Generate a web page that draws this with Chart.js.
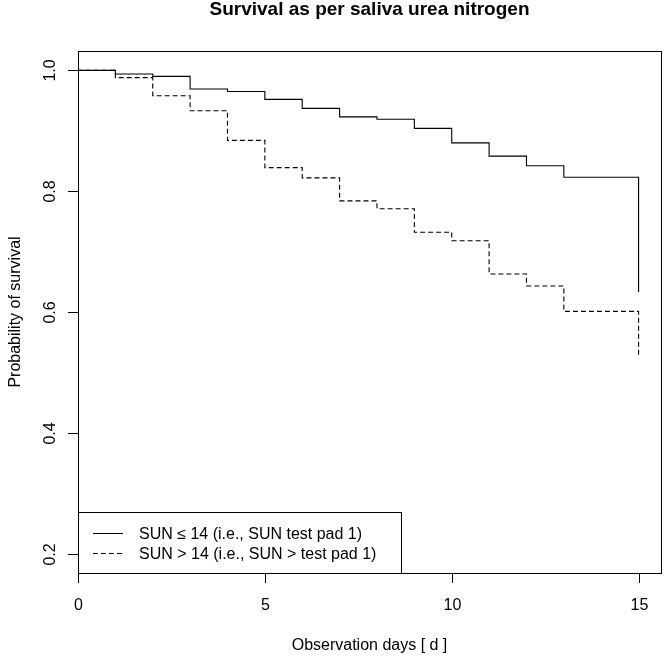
<!DOCTYPE html>
<html>
<head>
<meta charset="utf-8">
<title>Survival as per saliva urea nitrogen</title>
<script src="https://cdn.jsdelivr.net/npm/chart.js@4/dist/chart.umd.min.js"></script>
<style>
  html, body { margin: 0; padding: 0; background: #fff; }
  #wrap { width: 664px; height: 656px; }
</style>
</head>
<body>
<div id="wrap"><canvas id="km" width="664" height="656"></canvas></div>
<script>
// Kaplan-Meier estimates
const days = [0, 1, 2, 3, 4, 5, 6, 7, 8, 9, 10, 11, 12, 13, 15]
const survLow = [1.0, 0.994, 0.990, 0.969, 0.965, 0.952, 0.937, 0.923, 0.919, 0.904, 0.880, 0.858, 0.842, 0.823, 0.633]
const survHigh = [1.0, 0.988, 0.958, 0.933, 0.884, 0.839, 0.822, 0.784, 0.771, 0.732, 0.718, 0.663, 0.643, 0.601, 0.526]

const xTicks = [0, 5, 10, 15]
const yTicks = [0.2, 0.4, 0.6, 0.8, 1.0]
const seriesLabels = [
  'SUN \u2264 14 (i.e., SUN test pad 1)',
  'SUN > 14 (i.e., SUN > test pad 1)'
]
const TITLE = 'Survival as per saliva urea nitrogen'
const X_TITLE = 'Observation days [ d ]'
const Y_TITLE = 'Probability of survival'

const FONT = '"Liberation Sans", Arial, Helvetica, sans-serif'
const INK = '#000'

const toPoints = (ys) => days.map((d, i) => ({ x: d, y: ys[i] }))

// R-style frame, axes, titles and legend
const baseGraphics = {
  id: 'baseGraphics',
  afterDatasetsDraw (chart) {
    const { ctx, chartArea: a, scales: { x, y } } = chart
    ctx.save()
    ctx.strokeStyle = INK
    ctx.fillStyle = INK
    ctx.lineWidth = 1

    // box
    ctx.strokeRect(Math.round(a.left) + 0.5, Math.round(a.top) + 0.5,
      Math.round(a.right - a.left), Math.round(a.bottom - a.top))

    // x axis
    ctx.font = '16px ' + FONT
    ctx.textAlign = 'center'
    ctx.textBaseline = 'alphabetic'
    xTicks.forEach(v => {
      const px = Math.round(x.getPixelForValue(v)) + 0.5
      ctx.beginPath()
      ctx.moveTo(px, a.bottom)
      ctx.lineTo(px, a.bottom + 10)
      ctx.stroke()
      ctx.fillText(String(v), px, a.bottom + 37)
    })

    // y axis
    yTicks.forEach(v => {
      const py = Math.round(y.getPixelForValue(v)) + 0.5
      ctx.beginPath()
      ctx.moveTo(a.left - 10, py)
      ctx.lineTo(a.left, py)
      ctx.stroke()
      ctx.save()
      ctx.translate(55, py)
      ctx.rotate(-Math.PI / 2)
      ctx.fillText(v.toFixed(1), 0, 0)
      ctx.restore()
    })

    const cx = (a.left + a.right) / 2
    const cy = (a.top + a.bottom) / 2

    // axis titles
    ctx.fillText(X_TITLE, cx, 650)
    ctx.save()
    ctx.translate(20, cy)
    ctx.rotate(-Math.PI / 2)
    ctx.fillText(Y_TITLE, 0, 0)
    ctx.restore()

    // main title
    ctx.font = 'bold 19px ' + FONT
    ctx.fillText(TITLE, cx, 15)

    // legend, bottom left
    const lx = Math.round(a.left) + 0.5
    const ly = 512.5
    ctx.fillStyle = '#fff'
    ctx.fillRect(lx, ly, 323, a.bottom - ly)
    ctx.strokeRect(lx, ly, 323, Math.round(a.bottom) - ly + 0.5)
    ctx.fillStyle = INK
    ctx.font = '16px ' + FONT
    ctx.textAlign = 'left'
    chart.data.datasets.forEach((ds, i) => {
      const rowY = 533 + i * 20
      ctx.setLineDash(ds.borderDash || [])
      ctx.beginPath()
      ctx.moveTo(93, rowY + 0.5)
      ctx.lineTo(123, rowY + 0.5)
      ctx.stroke()
      ctx.setLineDash([])
      ctx.fillText(ds.label, 139, rowY + 6)
    })
    ctx.restore()
  }
}

new Chart(document.getElementById('km'), {
  type: 'line',
  data: {
    datasets: [
      {
        label: seriesLabels[0],
        data: toPoints(survLow),
        borderColor: INK,
        borderWidth: 1.1,
        stepped: true,
        pointRadius: 0,
        fill: false
      },
      {
        label: seriesLabels[1],
        data: toPoints(survHigh),
        borderColor: INK,
        borderWidth: 1.1,
        borderDash: [5, 3],
        stepped: true,
        pointRadius: 0,
        fill: false
      }
    ]
  },
  options: {
    responsive: false,
    animation: false,
    devicePixelRatio: 1,
    layout: { padding: { left: 78, right: 3, top: 51, bottom: 83 } },
    plugins: {
      legend: { display: false },
      tooltip: { enabled: false },
      title: { display: false }
    },
    scales: {
      x: { type: 'linear', min: 0, max: 15.6, display: false },
      y: { type: 'linear', min: 0.168, max: 1.032, display: false }
    }
  },
  plugins: [baseGraphics]
})
</script>
</body>
</html>
